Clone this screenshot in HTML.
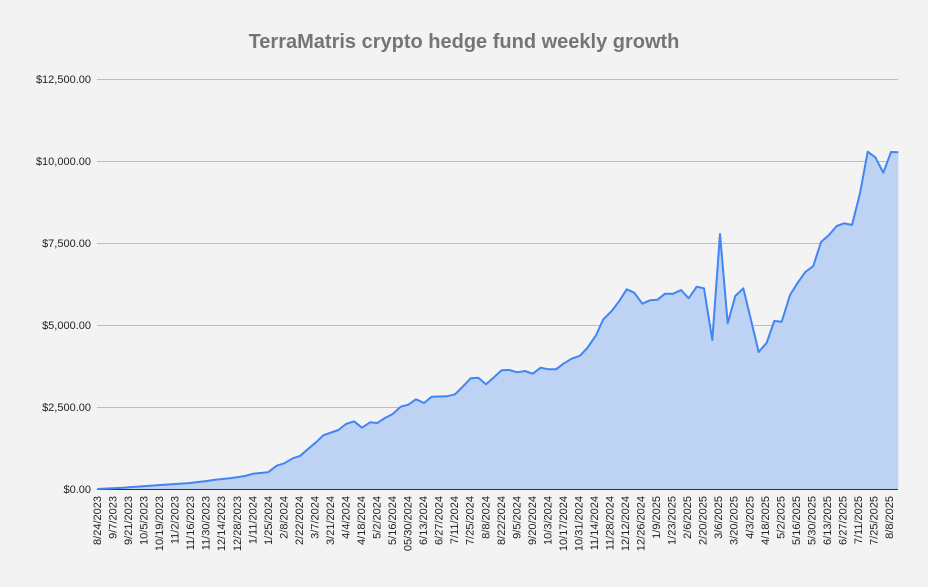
<!DOCTYPE html>
<html><head><meta charset="utf-8"><style>
html,body{margin:0;padding:0;background:#f3f3f3;}
svg{display:block;font-family:"Liberation Sans",Arial,sans-serif;}
</style></head><body>
<svg width="928" height="587" viewBox="0 0 928 587" xmlns="http://www.w3.org/2000/svg">
<rect width="928" height="587" fill="#f3f3f3"/>
<text x="464" y="48" text-anchor="middle" font-size="20" font-weight="bold" fill="#757575">TerraMatris crypto hedge fund weekly growth</text>
<g stroke="#bdbdbd" stroke-width="1">
<line x1="97" x2="898" y1="79.5" y2="79.5"/>
<line x1="97" x2="898" y1="161.5" y2="161.5"/>
<line x1="97" x2="898" y1="243.5" y2="243.5"/>
<line x1="97" x2="898" y1="325.5" y2="325.5"/>
<line x1="97" x2="898" y1="407.5" y2="407.5"/>
</g>
<g font-size="11" fill="#222" text-anchor="end">
<text x="91" y="83">$12,500.00</text>
<text x="91" y="165">$10,000.00</text>
<text x="91" y="247">$7,500.00</text>
<text x="91" y="329">$5,000.00</text>
<text x="91" y="411">$2,500.00</text>
<text x="91" y="493">$0.00</text>
</g>
<polygon fill="#bed2f3" points="97.3,489 123,487.7 157,485.3 190,483 206.7,481 215,479.7 230,478.3 245,476 253,473.7 268,472.3 276.7,465.7 284.3,463.3 292.7,458.3 300,456 308.3,448.7 316,442.3 323.3,435.3 330.7,432.7 338.3,430 346,424 354,421.3 362,427.7 370,422.3 377.3,423 385,418 392.7,414 400.7,406.7 408.3,404.7 416,399.3 424,403 431.7,396.7 446.7,396.3 455,394.3 462.7,386.7 470.7,378.3 478.3,377.7 486,384.3 494,377.3 501.7,370.3 509.3,370 517.3,372.3 525,371 532.7,373.7 540.7,367.7 548.3,369.3 556,369.3 564,363.3 571.7,358.7 580,355.7 587.3,348 596,335.3 603.3,319.3 611.7,311 619.3,301 626.7,289.3 634.3,292.7 642.3,303.7 650,300.3 657.7,299.7 665,293.7 673.3,293.7 681,290 688.7,298.3 696.7,286.7 704,288.3 712.3,340 720,234 727.7,323.3 735.3,296 743.3,288.3 751,320 758.7,352 766.7,342.7 774.3,321 781.7,321.7 790,295 797.3,283.3 805.3,272 813.3,266 821,242 828.7,235.3 836.7,226 844.3,223.3 852,225 860,193.3 867.7,151.7 875.3,157.3 883.3,172.7 891,152 898.3,152.3 898.3,489"/>
<line x1="97" x2="898" y1="489.5" y2="489.5" stroke="#333" stroke-width="1"/>
<polyline fill="none" stroke="#4285f4" stroke-width="2" stroke-linejoin="round" points="97.3,489 123,487.7 157,485.3 190,483 206.7,481 215,479.7 230,478.3 245,476 253,473.7 268,472.3 276.7,465.7 284.3,463.3 292.7,458.3 300,456 308.3,448.7 316,442.3 323.3,435.3 330.7,432.7 338.3,430 346,424 354,421.3 362,427.7 370,422.3 377.3,423 385,418 392.7,414 400.7,406.7 408.3,404.7 416,399.3 424,403 431.7,396.7 446.7,396.3 455,394.3 462.7,386.7 470.7,378.3 478.3,377.7 486,384.3 494,377.3 501.7,370.3 509.3,370 517.3,372.3 525,371 532.7,373.7 540.7,367.7 548.3,369.3 556,369.3 564,363.3 571.7,358.7 580,355.7 587.3,348 596,335.3 603.3,319.3 611.7,311 619.3,301 626.7,289.3 634.3,292.7 642.3,303.7 650,300.3 657.7,299.7 665,293.7 673.3,293.7 681,290 688.7,298.3 696.7,286.7 704,288.3 712.3,340 720,234 727.7,323.3 735.3,296 743.3,288.3 751,320 758.7,352 766.7,342.7 774.3,321 781.7,321.7 790,295 797.3,283.3 805.3,272 813.3,266 821,242 828.7,235.3 836.7,226 844.3,223.3 852,225 860,193.3 867.7,151.7 875.3,157.3 883.3,172.7 891,152 898.3,152.3"/>
<g font-size="11" fill="#222" text-anchor="end">
<text transform="translate(101.0,496) rotate(-90)">8/24/2023</text>
<text transform="translate(116.5,496) rotate(-90)">9/7/2023</text>
<text transform="translate(132.1,496) rotate(-90)">9/21/2023</text>
<text transform="translate(147.6,496) rotate(-90)">10/5/2023</text>
<text transform="translate(163.1,496) rotate(-90)">10/19/2023</text>
<text transform="translate(178.7,496) rotate(-90)">11/2/2023</text>
<text transform="translate(194.2,496) rotate(-90)">11/16/2023</text>
<text transform="translate(209.7,496) rotate(-90)">11/30/2023</text>
<text transform="translate(225.2,496) rotate(-90)">12/14/2023</text>
<text transform="translate(240.8,496) rotate(-90)">12/28/2023</text>
<text transform="translate(256.3,496) rotate(-90)">1/11/2024</text>
<text transform="translate(271.8,496) rotate(-90)">1/25/2024</text>
<text transform="translate(287.4,496) rotate(-90)">2/8/2024</text>
<text transform="translate(302.9,496) rotate(-90)">2/22/2024</text>
<text transform="translate(318.4,496) rotate(-90)">3/7/2024</text>
<text transform="translate(334.0,496) rotate(-90)">3/21/2024</text>
<text transform="translate(349.5,496) rotate(-90)">4/4/2024</text>
<text transform="translate(365.0,496) rotate(-90)">4/18/2024</text>
<text transform="translate(380.5,496) rotate(-90)">5/2/2024</text>
<text transform="translate(396.1,496) rotate(-90)">5/16/2024</text>
<text transform="translate(411.6,496) rotate(-90)">05/30/2024</text>
<text transform="translate(427.1,496) rotate(-90)">6/13/2024</text>
<text transform="translate(442.7,496) rotate(-90)">6/27/2024</text>
<text transform="translate(458.2,496) rotate(-90)">7/11/2024</text>
<text transform="translate(473.7,496) rotate(-90)">7/25/2024</text>
<text transform="translate(489.3,496) rotate(-90)">8/8/2024</text>
<text transform="translate(504.8,496) rotate(-90)">8/22/2024</text>
<text transform="translate(520.3,496) rotate(-90)">9/5/2024</text>
<text transform="translate(535.8,496) rotate(-90)">9/20/2024</text>
<text transform="translate(551.4,496) rotate(-90)">10/3/2024</text>
<text transform="translate(566.9,496) rotate(-90)">10/17/2024</text>
<text transform="translate(582.4,496) rotate(-90)">10/31/2024</text>
<text transform="translate(598.0,496) rotate(-90)">11/14/2024</text>
<text transform="translate(613.5,496) rotate(-90)">11/28/2024</text>
<text transform="translate(629.0,496) rotate(-90)">12/12/2024</text>
<text transform="translate(644.6,496) rotate(-90)">12/26/2024</text>
<text transform="translate(660.1,496) rotate(-90)">1/9/2025</text>
<text transform="translate(675.6,496) rotate(-90)">1/23/2025</text>
<text transform="translate(691.1,496) rotate(-90)">2/6/2025</text>
<text transform="translate(706.7,496) rotate(-90)">2/20/2025</text>
<text transform="translate(722.2,496) rotate(-90)">3/6/2025</text>
<text transform="translate(737.7,496) rotate(-90)">3/20/2025</text>
<text transform="translate(753.3,496) rotate(-90)">4/3/2025</text>
<text transform="translate(768.8,496) rotate(-90)">4/18/2025</text>
<text transform="translate(784.3,496) rotate(-90)">5/2/2025</text>
<text transform="translate(799.9,496) rotate(-90)">5/16/2025</text>
<text transform="translate(815.4,496) rotate(-90)">5/30/2025</text>
<text transform="translate(830.9,496) rotate(-90)">6/13/2025</text>
<text transform="translate(846.4,496) rotate(-90)">6/27/2025</text>
<text transform="translate(862.0,496) rotate(-90)">7/11/2025</text>
<text transform="translate(877.5,496) rotate(-90)">7/25/2025</text>
<text transform="translate(893.0,496) rotate(-90)">8/8/2025</text>
</g>
</svg>
</body></html>
